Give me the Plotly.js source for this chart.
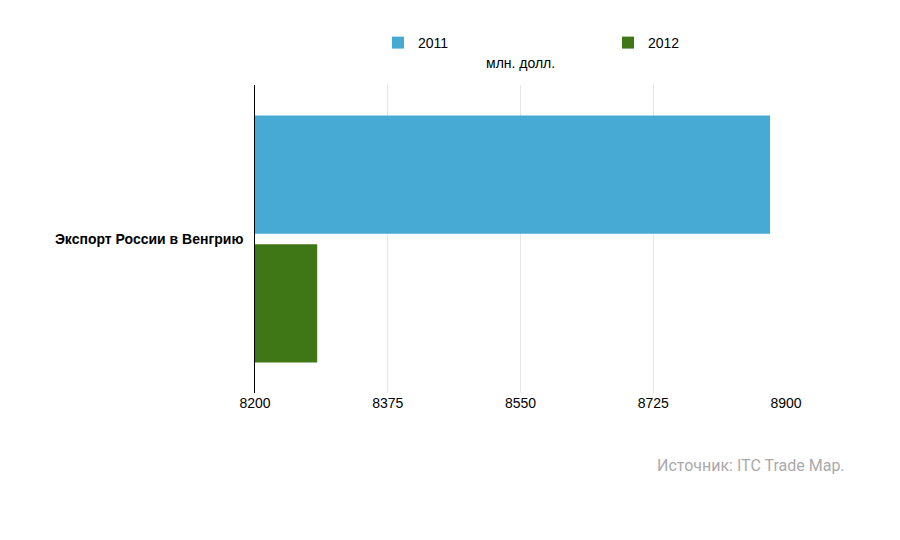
<!DOCTYPE html>
<html><head><meta charset="utf-8">
<script src="https://cdn.plot.ly/plotly-3.0.1.min.js"></script>
<style>body{margin:0;background:#fff}#c{width:900px;height:540px}</style>
</head><body><div id="c"></div>
<script>
const categories = ["Экспорт России в Венгрию"];
const years = ["2011", "2012"];
const values2011 = [8879];
const values2012 = [8282];
const tickVals = [8200, 8375, 8550, 8725, 8900];
const colors = {"2011": "#46aad5", "2012": "#3f7716"};

const traces = [
  {type:"bar", orientation:"h", name:years[1], y:categories, x:values2012, marker:{color:colors["2012"]}, legend:"legend2"},
  {type:"bar", orientation:"h", name:years[0], y:categories, x:values2011, marker:{color:colors["2011"]}, legend:"legend"}
];
const legFont = {size:14, family:"Liberation Sans, Arial, sans-serif"};
const layout = {
  width:900, height:540,
  margin:{l:255, r:114, t:85, b:147, autoexpand:false},
  barmode:"group", bargap:0.165, bargroupgap:0.08,
  font:{family:"Liberation Sans, Arial, sans-serif", size:14, color:"#000"},
  paper_bgcolor:"#fff", plot_bgcolor:"#fff",
  xaxis:{range:[8200,8900], tickvals:tickVals, ticktext:tickVals.map(String), showgrid:true, gridcolor:"#e6e6e6", zeroline:false, showline:false, ticks:"", tickfont:{size:14}},
  yaxis:{showline:true, linecolor:"#000", linewidth:1, ticks:"", tickfont:{size:14, weight:"bold"}, ticksuffix:"  "},
  showlegend:true,
  legend:{x:(378-255)/531, xanchor:"left", y:(85-43)/308+1, yanchor:"middle", font:legFont, bgcolor:"rgba(0,0,0,0)"},
  legend2:{x:(608-255)/531, xanchor:"left", y:(85-43)/308+1, yanchor:"middle", font:legFont, bgcolor:"rgba(0,0,0,0)"},
  annotations:[
    {text:"млн. долл.", xref:"paper", yref:"paper", x:0.5, y:(85-63)/308+1, xanchor:"center", yanchor:"middle", showarrow:false, font:{size:14}},
    {text:"Источник: ITC Trade Map.", xref:"paper", yref:"paper", x:(847-255)/531, y:-(466-393)/308, xanchor:"right", yanchor:"middle", showarrow:false, font:{size:16, color:"#aaa", family:"Roboto, sans-serif"}}
  ]
};
Plotly.newPlot("c", traces, layout, {displayModeBar:false});
</script></body></html>
